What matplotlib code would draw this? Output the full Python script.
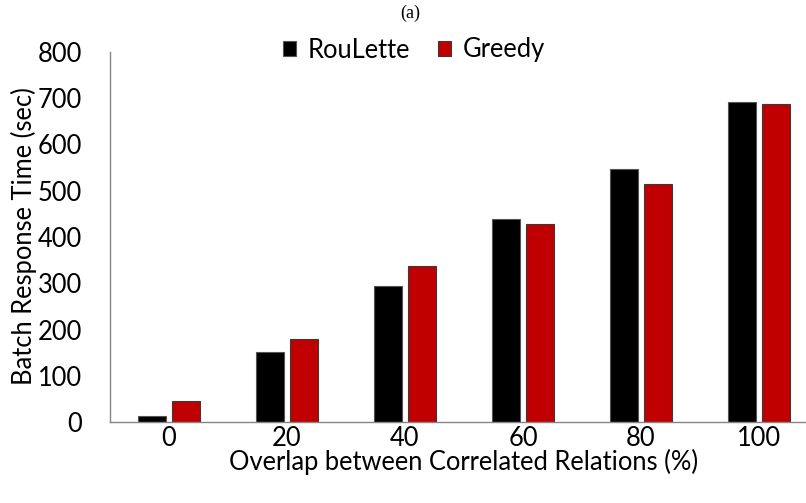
import numpy as np
import matplotlib.pyplot as plt
from matplotlib.patches import Patch

# Batch response time per overlap level
overlap = ['0', '20', '40', '60', '80', '100']
roulette = [13, 152, 295, 440, 548, 692]
greedy = [45, 179, 338, 429, 515, 688]

plt.rcParams['font.family'] = ['Lato', 'DejaVu Sans']
FS = 18.4

W, H = 806, 503
fig = plt.figure(figsize=(W / 100, H / 100), dpi=100)
# axes run a little past the right edge of the canvas
ax = fig.add_axes([110 / W, (H - 422) / H, 708 / W, 370 / H])

x = np.arange(len(overlap))
bw = 0.235
off = 0.142
ax.bar(x - off, roulette, bw, color='black', edgecolor='#555555', linewidth=0.8, label='RouLette')
ax.bar(x + off, greedy, bw, color='#C00000', edgecolor='#3a3a3a', linewidth=0.8, label='Greedy')

ax.set_xlim(-0.5, len(overlap) - 0.5)
ax.set_ylim(0, 800)
ax.set_yticks(range(0, 801, 100))
ax.set_xticks(x)
ax.set_xticklabels(overlap)
ax.tick_params(axis='both', length=0, labelsize=FS, colors='black')
ax.tick_params(axis='y', pad=20)
ax.tick_params(axis='x', pad=3)

for s in ['top', 'right']:
    ax.spines[s].set_visible(False)
for s in ['left', 'bottom']:
    ax.spines[s].set_color('#868686')
    ax.spines[s].set_linewidth(1.0)

ax.set_xlabel('Overlap between Correlated Relations (%)', fontsize=FS, labelpad=-1.5)
fig.text(24 / W, 1 - 236 / H, 'Batch Response Time (sec)', rotation=90,
         ha='center', va='center', fontsize=FS)

fig.text(410 / W, 1 - 13 / H, '(a)', ha='center', va='center',
         fontsize=13, family=['Liberation Serif', 'DejaVu Serif'])

handles = [Patch(facecolor='black', edgecolor='#555555', linewidth=0.8),
           Patch(facecolor='#C00000', edgecolor='#3a3a3a', linewidth=0.8)]
fig.legend(handles, ['RouLette', 'Greedy'], loc='center', bbox_to_anchor=(414 / W, 1 - 50 / H),
           ncol=2, frameon=False, fontsize=FS, handlelength=0.5, handleheight=0.5,
           handletextpad=0.45, columnspacing=1.1, borderpad=0)

fig.savefig('out.png', dpi=100)
plt.close(fig)
